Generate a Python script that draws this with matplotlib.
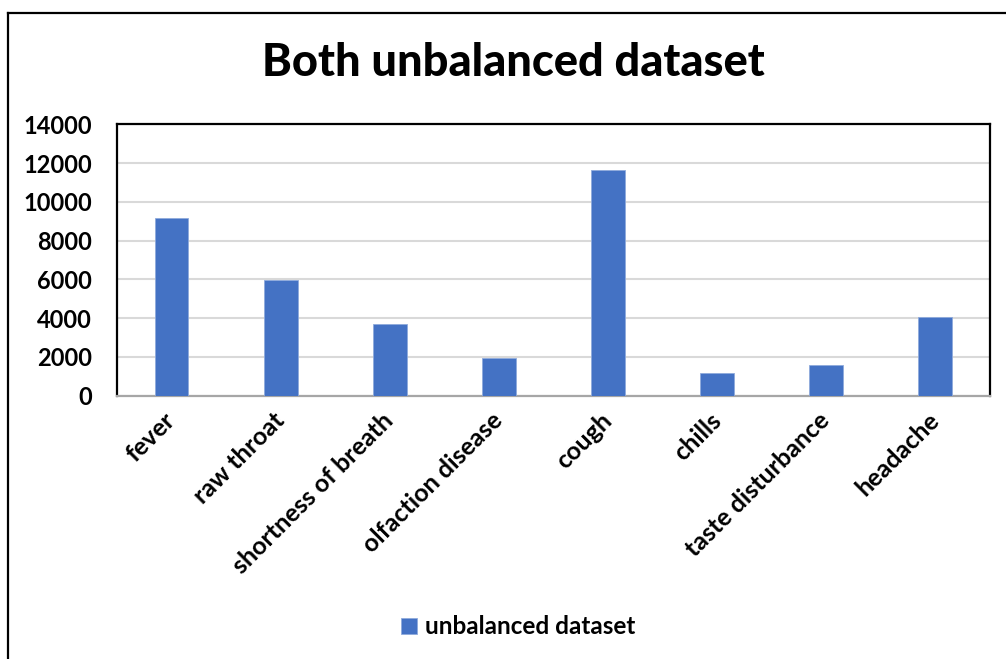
import matplotlib.pyplot as plt
from matplotlib.lines import Line2D

categories = ['fever', 'raw throat', 'shortness of breath', 'olfaction disease',
              'cough', 'chills', 'taste disturbance', 'headache']
counts = [9150, 5970, 3700, 1965, 11640, 1160, 1590, 4045]
series_name = 'unbalanced dataset'
y_ticks = [0, 2000, 4000, 6000, 8000, 10000, 12000, 14000]

bar_color = '#4472C4'
plt.rcParams['font.family'] = ['Lato', 'DejaVu Sans']

fig = plt.figure(figsize=(10.06, 6.59), dpi=100)
ax = fig.add_axes([0.1163, 0.3994, 0.8677, 0.4121])

ax.bar(range(len(categories)), counts, width=0.31, color=bar_color,
       edgecolor='#8FAADC', linewidth=0.6, label=series_name, zorder=3)
ax.set_xlim(-0.5, len(categories) - 0.5)
ax.set_ylim(0, 14000)
ax.set_yticks(y_ticks)
ax.set_yticklabels([str(v) for v in y_ticks], fontsize=17, fontweight='bold')
ax.set_xticks(range(len(categories)))
ax.set_xticklabels(categories, rotation=45, ha='right', va='center',
                   rotation_mode='anchor', fontsize=18, fontweight='bold')
ax.tick_params(axis='y', length=0, pad=18)
ax.tick_params(axis='x', length=0, pad=15)

ax.yaxis.grid(True, color='#D9D9D9', linewidth=1.5, zorder=0)
ax.set_axisbelow(True)
for side in ['left', 'top', 'right']:
    ax.spines[side].set_color('black')
    ax.spines[side].set_linewidth(1.6)
ax.spines['bottom'].set_color('#A6A6A6')
ax.spines['bottom'].set_linewidth(1.6)

fig.text(0.51, 0.904, 'Both unbalanced dataset', ha='center', va='center',
         fontsize=32.5, fontweight='black')

fig.legend(loc='center', bbox_to_anchor=(0.515, 1 - 627 / 659), frameon=False,
           handlelength=0.65, handleheight=0.65, handletextpad=0.35,
           prop={'weight': 'bold', 'size': 17.5})

# outer chart border (left and top visible)
fig.add_artist(Line2D([0.0075, 0.0075], [0, 0.981], color='black', linewidth=1.6,
                      transform=fig.transFigure))
fig.add_artist(Line2D([0.0075, 1.0], [0.981, 0.981], color='black', linewidth=1.6,
                      transform=fig.transFigure))

fig.savefig('out.png', dpi=100)
